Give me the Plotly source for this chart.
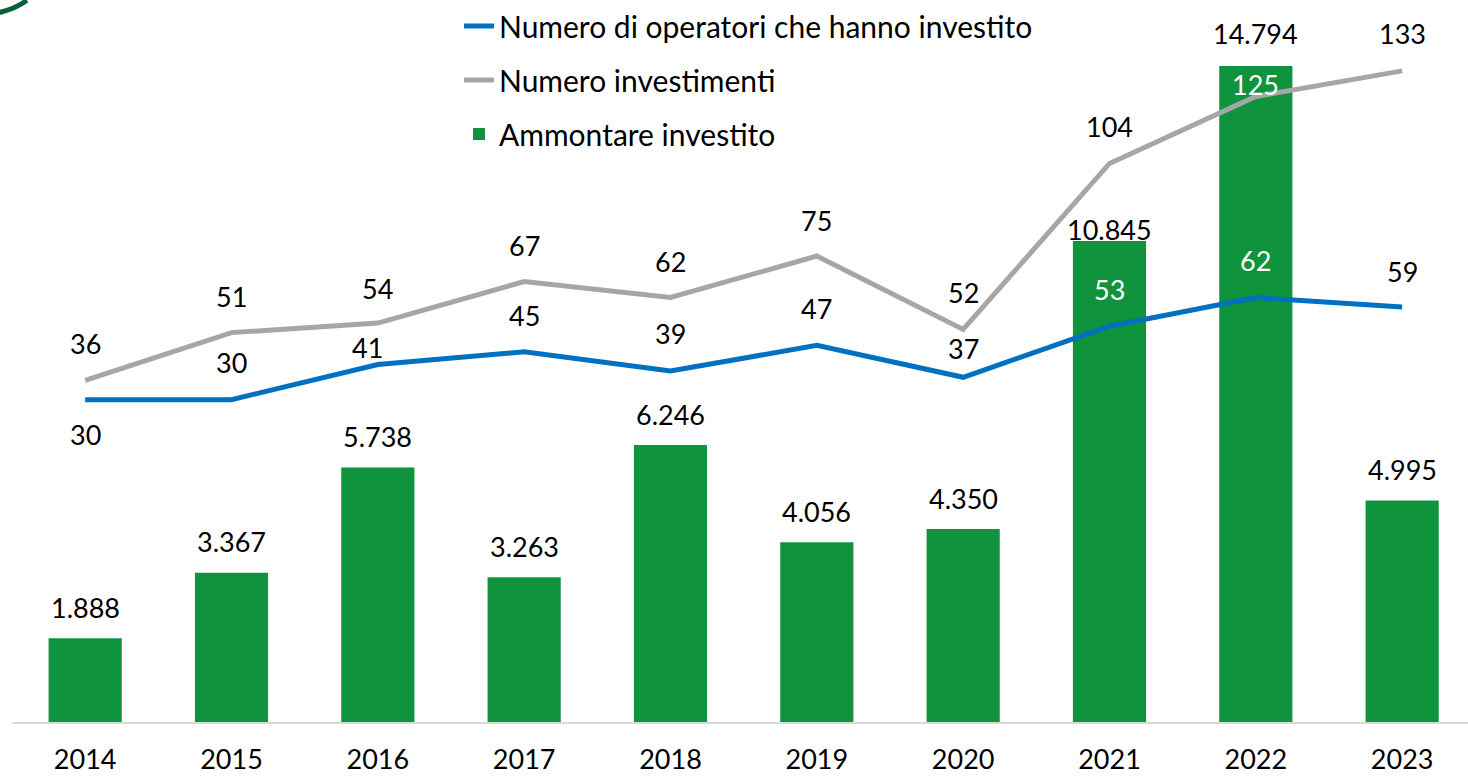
import plotly.graph_objects as go

# ---- data ----
years = ["2014", "2015", "2016", "2017", "2018", "2019", "2020", "2021", "2022", "2023"]
ammontare = [1888, 3367, 5738, 3263, 6246, 4056, 4350, 10845, 14794, 4995]
operatori = [30, 30, 41, 45, 39, 47, 37, 53, 62, 59]
investimenti = [36, 51, 54, 67, 62, 75, 52, 104, 125, 133]

# ---- label styling (offsets in px, colors) ----
bar_yshift = [31, 31, 31, 31, 31, 31, 31, 12, 32, 31]
op_yshift = [-35, 37, 17, 36, 37, 37, 29, 37, 37, 36]
op_xshift = [0, 0, -10, 0, 0, 0, 0, 0, 0, 0]
op_color = ["black"] * 7 + ["white", "white", "black"]
inv_yshift = [37, 36, 35, 36, 36, 36, 37, 37, 12, 37]
inv_color = ["black"] * 8 + ["white", "black"]

GREEN = "#10933D"
BLUE = "#0070C0"
GRAY = "#A6A6A6"
FONT = "Lato, Calibri, sans-serif"
FS = 27


def fmt(v):
    return f"{v:,}".replace(",", ".")


fig = go.Figure()
fig.add_trace(go.Bar(
    x=years, y=ammontare, name="Ammontare investito",
    marker=dict(color=GREEN, line=dict(width=0)), width=0.5,
    legendrank=3, legendgroup="c", yaxis="y",
))
fig.add_trace(go.Scatter(
    x=years, y=operatori, name="Numero di operatori che hanno investito",
    mode="lines", line=dict(color=BLUE, width=5),
    legendrank=1, legendgroup="a", yaxis="y2",
))
fig.add_trace(go.Scatter(
    x=years, y=investimenti, name="Numero investimenti",
    mode="lines", line=dict(color=GRAY, width=5),
    legendrank=2, legendgroup="b", yaxis="y2",
))

ann = []
for i, yr in enumerate(years):
    ann.append(dict(x=i, y=ammontare[i], xref="x", yref="y", text=fmt(ammontare[i]),
                    showarrow=False, yanchor="middle", yshift=bar_yshift[i],
                    font=dict(family=FONT, size=FS, color="black")))
    ann.append(dict(x=i, y=operatori[i], xref="x", yref="y2", text=str(operatori[i]),
                    showarrow=False, yanchor="middle", yshift=op_yshift[i], xshift=op_xshift[i],
                    font=dict(family=FONT, size=FS, color=op_color[i])))
    ann.append(dict(x=i, y=investimenti[i], xref="x", yref="y2", text=str(investimenti[i]),
                    showarrow=False, yanchor="middle", yshift=inv_yshift[i],
                    font=dict(family=FONT, size=FS, color=inv_color[i])))

fig.update_layout(
    width=1468, height=778,
    margin=dict(l=12, r=0, t=0, b=56),
    paper_bgcolor="white", plot_bgcolor="white",
    font=dict(family=FONT, size=FS, color="black"),
    showlegend=True,
    legend=dict(
        x=0.307, y=1.002, xanchor="left", yanchor="top",
        font=dict(family=FONT, size=30, color="black"),
        tracegroupgap=12, bgcolor="rgba(0,0,0,0)",
    ),
    xaxis=dict(
        type="category", range=[-0.5, 9.45],
        showgrid=False, zeroline=False, automargin=False,
        showline=True, linecolor="#D9D9D9", linewidth=2,
        ticks="", ticklabelstandoff=13, tickangle=0,
        tickfont=dict(family=FONT, size=FS, color="black"),
    ),
    yaxis=dict(range=[0, 16258], visible=False, showgrid=False, zeroline=False),
    yaxis2=dict(range=[-71.0, 154.9], overlaying="y", visible=False,
                showgrid=False, zeroline=False),
    annotations=ann,
    shapes=[dict(
        type="path", xref="paper", yref="paper",
        path="M -0.0085,0.984 Q 0.003,0.990 0.0102,1.001",
        line=dict(color="#0B5E36", width=5),
    )],
    bargap=0.5,
)

fig.write_html(
    "out.html",
    config={"displayModeBar": False},
    post_script="document.body.style.margin='0';document.body.style.overflow='hidden';",
)
